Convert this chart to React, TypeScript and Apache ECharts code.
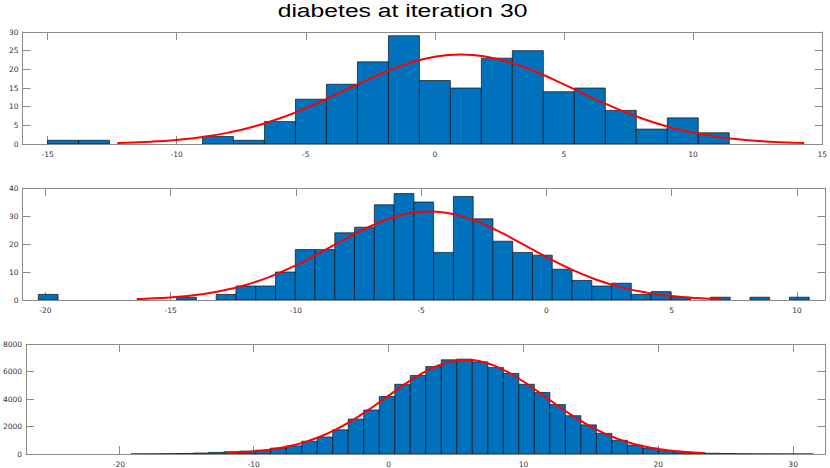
import React, { useEffect, useRef } from "react";
import * as echarts from "echarts";

const titleText = "diabetes at iteration 30";

// ---- top panel ----
const topBinStart = -15.0;
const topBinWidth = 1.2;
const topCounts = [1, 1, 0, 0, 0, 2, 1, 6, 12, 16, 22, 29, 17, 15, 23, 25, 14, 15, 9, 4, 7, 3];
const topXTicks = [-15, -10, -5, 0, 5, 10, 15];
const topCurveX = [-12.3, -11, -10, -9, -8, -7, -6, -5, -4, -3, -2, -1, 0, 1, 2, 3, 4, 5, 6, 7, 8, 9, 10, 11, 12, 13, 14, 14.3];
const topCurveY = [0.27, 0.61, 1.1, 1.88, 3.05, 4.7, 6.89, 9.59, 12.69, 15.97, 19.08, 21.67, 23.4, 24.0, 23.4, 21.67, 19.08, 15.97, 12.69, 9.59, 6.89, 4.7, 3.05, 1.88, 1.1, 0.61, 0.32, 0.27];

// ---- middle panel ----
const midBinStart = -20.28;
const midBinWidth = 0.789;
const midCounts = [2, 0, 0, 0, 0, 0, 0, 1, 0, 2, 5, 5, 10, 18, 18, 24, 26, 34, 38, 35, 17, 37, 29, 21, 17, 16, 11, 7, 5, 6, 2, 3, 1, 0, 1, 0, 1, 0, 1];
const midXTicks = [-20, -15, -10, -5, 0, 5, 10];
const midCurveX = [-16.35, -16, -15, -14, -13, -12, -11, -10, -9, -8, -7, -6, -5, -4.7, -4, -3, -2, -1, 0, 1, 2, 3, 4, 5, 6, 7];
const midCurveY = [0.35, 0.46, 0.93, 1.79, 3.2, 5.37, 8.43, 12.38, 17.03, 21.93, 26.43, 29.82, 31.49, 31.6, 31.13, 28.8, 24.94, 20.22, 15.34, 10.9, 7.25, 4.51, 2.63, 1.43, 0.73, 0.35];

// ---- bottom panel ----
const botBinStart = -19.09;
const botBinWidth = 1.15;
const botCounts = [6, 12, 25, 40, 71, 119, 167, 214, 280, 429, 590, 929, 1238, 1762, 2540, 3200, 4180, 5071, 5710, 6357, 6850, 6900, 6700, 6300, 5857, 5071, 4476, 3595, 2786, 2119, 1500, 1000, 643, 429, 238, 167, 90, 55, 30, 18, 10, 6, 4, 2];
const botXTicks = [-20, -10, 0, 10, 20, 30];
const botCurveX = [-11.9, -11, -10, -9, -8, -7, -6, -5, -4, -3, -2, -1, 0, 1, 2, 3, 4, 5, 6, 7, 8, 9, 10, 11, 12, 13, 14, 15, 16, 17, 18, 19, 20, 21, 22, 23, 23.4];
const botCurveY = [76, 119, 191, 296, 447, 655, 933, 1291, 1735, 2267, 2876, 3545, 4245, 4940, 5584, 6133, 6545, 6785, 6834, 6688, 6359, 5873, 5271, 4596, 3893, 3204, 2562, 1991, 1502, 1102, 785, 543, 365, 239, 151, 94, 76];

const axisColor = "#8c8c8c";
const labelStyle = { color: "#333333", fontSize: 7.5, fontFamily: "DejaVu Sans" };
const plainNumber = (v: number) => String(v);

function histData(start: number, width: number, counts: number[]) {
  return counts.map((c, i) => [start + i * width, start + (i + 1) * width, c]);
}

function curveData(xs: number[], ys: number[]) {
  return xs.map((x, i) => [x, ys[i]]);
}

const renderHist = (params: any, api: any) => {
  const c = api.value(2);
  if (!c) return { type: "group", children: [] };
  const p0 = api.coord([api.value(0), 0]);
  const p1 = api.coord([api.value(1), c]);
  return {
    type: "rect",
    shape: { x: p0[0], y: p1[1], width: p1[0] - p0[0], height: p0[1] - p1[1] },
    style: { fill: "#0072BD", stroke: "#111111", lineWidth: 0.7 },
  };
};

function xAxes(gridIndex: number, min: number, max: number, ticks: number[]) {
  const common = {
    type: "value",
    gridIndex,
    min,
    max,
    splitLine: { show: false },
    axisLine: { show: true, onZero: false, lineStyle: { color: axisColor, width: 1 } },
    axisTick: { show: true, inside: true, length: 8, customValues: ticks, lineStyle: { color: axisColor, width: 1 } },
  };
  return [
    { ...common, position: "bottom", axisLabel: { show: true, customValues: ticks, margin: 6, formatter: plainNumber, ...labelStyle } },
    { ...common, position: "top", axisLabel: { show: false } },
  ];
}

function yAxes(gridIndex: number, max: number, interval: number) {
  const common = {
    type: "value",
    gridIndex,
    min: 0,
    max,
    interval,
    splitLine: { show: false },
    axisLine: { show: true, onZero: false, lineStyle: { color: axisColor, width: 1 } },
    axisTick: { show: true, inside: true, length: 8, lineStyle: { color: axisColor, width: 1 } },
  };
  return [
    { ...common, position: "left", axisLabel: { show: true, margin: 4, formatter: plainNumber, ...labelStyle } },
    { ...common, position: "right", axisLabel: { show: false } },
  ];
}

export default function App() {
  const ref = useRef<HTMLDivElement>(null);
  useEffect(() => {
    if (!ref.current) return;
    const chart = echarts.init(ref.current, undefined, { renderer: "svg" });
    const grids = [
      { left: 22.5, top: 32, width: 803, height: 112 },
      { left: 22.5, top: 188, width: 803, height: 112 },
      { left: 22.5, top: 344, width: 803, height: 112 },
    ];
    const option: any = {
      animation: false,
      backgroundColor: "#ffffff",
      graphic: [
        {
          type: "text",
          x: 402.5,
          y: 10.7,
          scaleX: 1.3,
          style: {
            text: titleText,
            fontSize: 19,
            fontFamily: "Liberation Sans",
            fill: "#000000",
            align: "center",
            verticalAlign: "middle",
          },
        },
      ],
      grid: grids,
      xAxis: [
        ...xAxes(0, -15.97, 15.02, topXTicks),
        ...xAxes(1, -20.91, 11.14, midXTicks),
        ...xAxes(2, -26.88, 32.4, botXTicks),
      ],
      yAxis: [...yAxes(0, 30, 5), ...yAxes(1, 40, 10), ...yAxes(2, 8000, 2000)],
      series: [
        { type: "custom", xAxisIndex: 0, yAxisIndex: 0, renderItem: renderHist, data: histData(topBinStart, topBinWidth, topCounts), encode: { x: [0, 1], y: 2 }, clip: true },
        { type: "line", xAxisIndex: 0, yAxisIndex: 0, data: curveData(topCurveX, topCurveY), smooth: true, showSymbol: false, lineStyle: { color: "#ff0000", width: 2 }, z: 5 },
        { type: "custom", xAxisIndex: 2, yAxisIndex: 2, renderItem: renderHist, data: histData(midBinStart, midBinWidth, midCounts), encode: { x: [0, 1], y: 2 }, clip: true },
        { type: "line", xAxisIndex: 2, yAxisIndex: 2, data: curveData(midCurveX, midCurveY), smooth: true, showSymbol: false, lineStyle: { color: "#ff0000", width: 2 }, z: 5 },
        { type: "custom", xAxisIndex: 4, yAxisIndex: 4, renderItem: renderHist, data: histData(botBinStart, botBinWidth, botCounts), encode: { x: [0, 1], y: 2 }, clip: true },
        { type: "line", xAxisIndex: 4, yAxisIndex: 4, data: curveData(botCurveX, botCurveY), smooth: true, showSymbol: false, lineStyle: { color: "#ff0000", width: 2 }, z: 5 },
      ],
    };
    chart.setOption(option);
    return () => chart.dispose();
  }, []);
  return <div ref={ref} style={{ position: "absolute", left: 0, top: 0, width: 830, height: 468 }} />;
}
